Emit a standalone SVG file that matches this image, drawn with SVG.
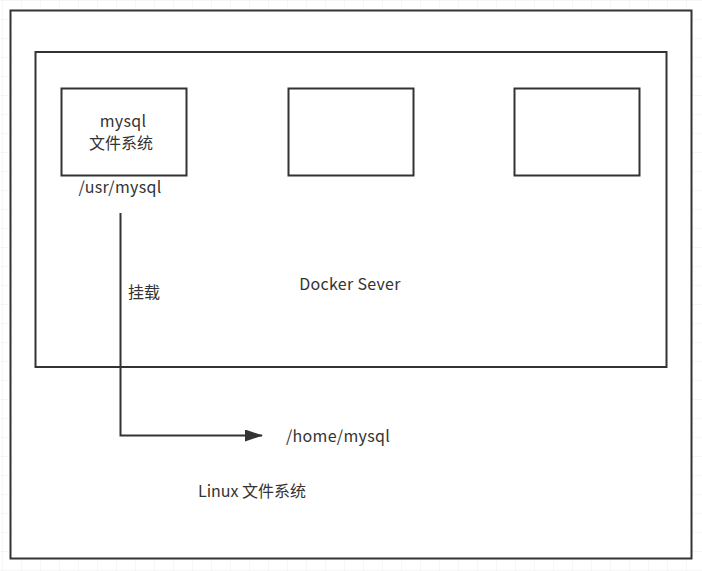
<svg xmlns="http://www.w3.org/2000/svg" width="702" height="571" viewBox="0 0 702 571">
<defs>
<pattern id="grid" x="3" y="1" width="19" height="19" patternUnits="userSpaceOnUse">
<path d="M19 0V19M0 19H19" fill="none" stroke="#eeeeee" stroke-width="1"/>
</pattern>
<marker id="arrow" markerWidth="18" markerHeight="12" refX="17" refY="6" orient="auto" markerUnits="userSpaceOnUse">
<path d="M0 0L18 6L0 12Z" fill="#333333"/>
</marker>
<style>
.box{fill:#ffffff;stroke:#333333;stroke-width:2}
.t{font-family:"Microsoft YaHei","Noto Sans CJK SC","Liberation Sans",sans-serif;font-size:16px;fill:#333333}
.l{letter-spacing:0.3px}
.line{fill:none;stroke:#333333;stroke-width:2}
</style>
</defs>
<rect width="702" height="571" fill="#ffffff"/>
<rect width="702" height="571" fill="url(#grid)"/>
<g id="linux">
<rect class="box" x="10.5" y="10.5" width="681" height="548"/>
<text class="t" x="198" y="497">Linux 文件系统</text>
</g>
<g id="docker">
<rect class="box" x="35.5" y="52" width="631" height="315"/>
<text class="t l" x="350" y="290" text-anchor="middle">Docker Sever</text>
</g>
<g id="mysql">
<rect class="box" x="61.5" y="88.5" width="125" height="87"/>
<text class="t l" x="123" y="127" text-anchor="middle">mysql</text>
<text class="t" x="121" y="149" text-anchor="middle">文件系统</text>
</g>
<g id="container2">
<rect class="box" x="288.5" y="88.5" width="125" height="87"/>
</g>
<g id="container3">
<rect class="box" x="514.5" y="88.5" width="125" height="87"/>
</g>
<g id="usr-label">
<text class="t l" x="120" y="193" text-anchor="middle">/usr/mysql</text>
</g>
<g id="home-label">
<text class="t l" x="286" y="442">/home/mysql</text>
</g>
<g id="connectors">
<path class="line" d="M120.5 213V435.5H262" marker-end="url(#arrow)"/>
<text class="t" x="128" y="298">挂载</text>
</g>
</svg>
